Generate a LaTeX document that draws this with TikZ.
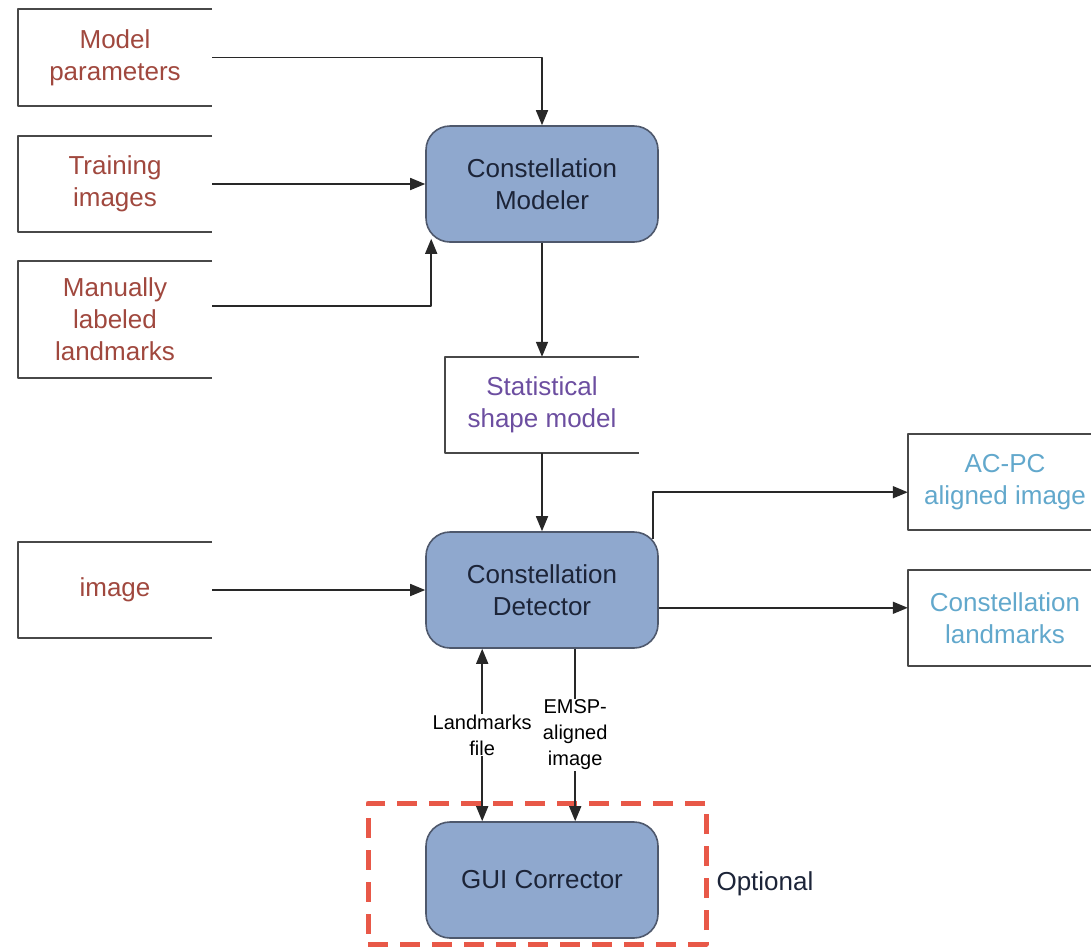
\documentclass[tikz,border=0pt]{standalone}
\usepackage{fontspec}
\setmainfont{Liberation Sans}
\usetikzlibrary{arrows.meta}
\definecolor{procfill}{RGB}{143,168,206}
\definecolor{procline}{RGB}{78,88,108}
\definecolor{proctext}{RGB}{28,36,56}
\definecolor{inred}{RGB}{160,72,62}
\definecolor{midpurple}{RGB}{108,78,160}
\definecolor{outblue}{RGB}{98,168,204}
\definecolor{optred}{RGB}{232,88,72}
\definecolor{wire}{RGB}{40,40,40}
\begin{document}
\begin{tikzpicture}[x=1pt,y=-1pt,line join=round,>={Triangle[length=15pt,width=12pt]},
	store/.style={minimum width=194pt,minimum height=96pt,inner sep=0pt,align=center,font=\fontsize{26}{32}\selectfont},
	storeline/.style={draw=wire!85,line width=1.8pt},
	proc/.style={draw=procline,line width=1.6pt,fill=procfill,rounded corners=24pt,minimum width=232pt,minimum height=116pt,align=center,text=proctext,font=\fontsize{26}{32}\selectfont},
	wirelab/.style={fill=white,align=center,inner sep=1pt,font=\fontsize{20}{26}\selectfont},
	link/.style={draw=wire,line width=1.6pt}]
	\useasboundingbox (0,0) rectangle (1091,946);
	% data stores
	\node[store,text=inred] (mp) at (115,57.5) {Model\\parameters};
	\node[store,text=inred] (ti) at (115,184) {Training\\images};
	\node[store,text=inred,minimum height=117pt] (ml) at (115,319.5) {Manually\\labeled\\landmarks};
	\node[store,text=inred] (im) at (115,590) {image};
	\node[store,text=midpurple] (ssm) at (542,405) {Statistical\\shape model};
	\node[store,text=outblue] (acpc) at (1005,482) {AC-PC\\aligned image};
	\node[store,text=outblue] (cl) at (1005,618) {Constellation\\landmarks};
	\foreach \n in {mp,ti,ml,im,ssm,acpc,cl}
		\draw[storeline] (\n.north east) -- (\n.north west) -- (\n.south west) -- (\n.south east);
	% processes
	\node[proc] (cm) at (542,184) {Constellation\\Modeler};
	\node[proc] (cd) at (542,590) {Constellation\\Detector};
	\node[proc] (gui) at (542,880) {GUI Corrector};
	\node[draw=optred,line width=5pt,dash pattern=on 20pt off 12pt,minimum width=338pt,minimum height=141pt] (optbox) at (537,873.5) {};
	\node[anchor=west,text=proctext,font=\fontsize{26}{32}\selectfont] (opt) at (713,884) {Optional};
	% connectors
	\draw[link,->] (mp.east) -| (cm.north);
	\draw[link,->] (ti.east) -- (cm.west);
	\draw[link,->] (ml.8) -| ([xshift=6pt,yshift=4pt]cm.south west);
	\draw[link,->] (cm.south) -- (ssm.north);
	\draw[link,->] (ssm.south) -- (cd.north);
	\draw[link,->] (im.east) -- (cd.west);
	\draw[link,->] ([xshift=-6pt,yshift=-8pt]cd.north east) |- (acpc.186);
	\draw[link,->] (cd.east |- cl.174) -- (cl.174);
	\draw[link,<->] ([xshift=57pt]cd.south west) -- node[wirelab]{Landmarks\\file} ([xshift=57pt]gui.north west);
	\draw[link,->] ([xshift=150pt]cd.south west) -- node[wirelab]{EMSP-\\aligned\\image} ([xshift=150pt]gui.north west);
\end{tikzpicture}
\end{document}
